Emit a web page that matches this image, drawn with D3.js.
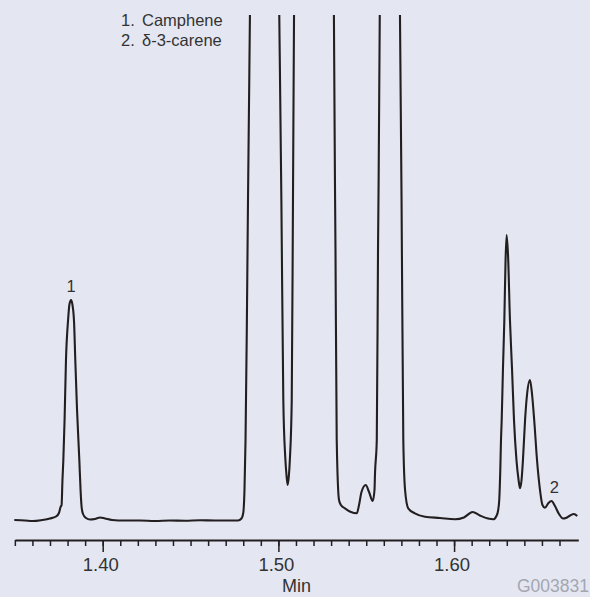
<!DOCTYPE html>
<html>
<head>
<meta charset="utf-8">
<script src="https://cdn.jsdelivr.net/npm/d3@7"></script>
<style>
  html, body { margin: 0; padding: 0; background: #e4e7f2; }
  svg { display: block; }
  text { font-family: "Liberation Sans", Arial, Helvetica, sans-serif; }
</style>
</head>
<body>
<script>
// ---- data ----
const retentionTime = [
  1.3497, 1.3558, 1.3603, 1.3655, 1.3700, 1.3734, 1.3751, 1.3760, 1.3766, 1.3771,
  1.3776, 1.3783, 1.3791, 1.3803, 1.3811, 1.3820, 1.3828, 1.3837, 1.3844, 1.3854,
  1.3867, 1.3874, 1.3880, 1.3888, 1.3905, 1.3928, 1.3956, 1.3985, 1.4013, 1.4053,
  1.4127, 1.4212, 1.4298, 1.4383, 1.4468, 1.4554, 1.4639, 1.4725, 1.4770, 1.4790,
  1.4800, 1.4807, 1.4813, 1.4820, 1.4827, 1.4833, 1.4838, 1.4840, 1.4918, 1.5002,
  1.5005, 1.5017, 1.5028, 1.5039, 1.5046, 1.5053, 1.5060, 1.5066, 1.5076, 1.5083,
  1.5089, 1.5091, 1.5203, 1.5315, 1.5316, 1.5325, 1.5332, 1.5345, 1.5356, 1.5379,
  1.5413, 1.5446, 1.5459, 1.5473, 1.5497, 1.5516, 1.5537, 1.5547, 1.5550, 1.5560,
  1.5567, 1.5577, 1.5578, 1.5635, 1.5690, 1.5692, 1.5701, 1.5711, 1.5721, 1.5739,
  1.5777, 1.5834, 1.5920, 1.6005, 1.6056, 1.6105, 1.6147, 1.6193, 1.6223, 1.6241,
  1.6250, 1.6257, 1.6263, 1.6267, 1.6271, 1.6278, 1.6286, 1.6293, 1.6299, 1.6307,
  1.6318, 1.6330, 1.6341, 1.6355, 1.6367, 1.6375, 1.6384, 1.6392, 1.6404, 1.6415,
  1.6432, 1.6443, 1.6456, 1.6472, 1.6489, 1.6503, 1.6517, 1.6537, 1.6555, 1.6574,
  1.6597, 1.6620, 1.6637, 1.6660, 1.6682, 1.6701
];
const detectorSignal = [
  10, 9.5, 9, 10, 11.5, 13.5, 17, 23, 25, 50,
  70, 110, 170, 210, 226, 230, 225, 208, 170, 120,
  70, 40, 23, 16, 12, 10.5, 11, 12.5, 11.5, 10,
  9.5, 9.5, 9, 9.5, 9.3, 9.7, 9.5, 9.5, 9.5, 11.5,
  17, 40, 90, 197, 330, 430, 515, 560, 1500, 560,
  515, 330, 130, 73, 55, 45, 55, 73, 130, 330,
  515, 560, 1500, 560, 515, 280, 90, 30, 25, 21.7,
  18, 16.7, 25, 38, 45, 38, 29, 40, 57, 90,
  280, 515, 560, 1500, 560, 515, 330, 90, 40, 21.7,
  16.7, 13.3, 12, 10.7, 12.5, 18, 14.5, 11.5, 10.7, 14,
  19, 30, 60, 90, 110, 160, 210, 270, 295, 275,
  210, 160, 110, 70, 50, 41.7, 50, 70, 110, 135,
  150, 137, 110, 70, 40, 25, 22.3, 27, 29, 24,
  16, 11.5, 12, 14.5, 16, 14
];
const minorTicks = [1.35, 1.36, 1.37, 1.38, 1.39, 1.40, 1.41, 1.42, 1.43, 1.44, 1.45,
  1.46, 1.47, 1.48, 1.49, 1.50, 1.51, 1.52, 1.53, 1.54, 1.55, 1.56, 1.57, 1.58, 1.59,
  1.60, 1.61, 1.62, 1.63, 1.64, 1.65, 1.66];
const majorTicks = [1.40, 1.50, 1.60];
const peakLabels = ["1", "2"];
const peakTimes = [1.3820, 1.6570];
const peakSignals = [230, 29];
const legendNumbers = ["1.", "2."];
const legendNames = ["Camphene", "\u03B4-3-carene"];
const xAxisTitle = "Min";
const figureCode = "G003831";

// ---- drawing ----
const W = 590, H = 597;
const ink = "#231f20";
const svg = d3.select("body").append("svg").attr("width", W).attr("height", H);
svg.append("rect").attr("width", W).attr("height", H).attr("fill", "#e4e7f2");

const x = d3.scaleLinear().domain([1.35, 1.6707]).range([14.85, 578.3]);
const y = d3.scaleLinear().domain([0, 515]).range([530, 15]);

svg.append("clipPath").attr("id", "plotclip")
  .append("rect").attr("x", 0).attr("y", 15).attr("width", W).attr("height", 525);

const pts = retentionTime.map((t, i) => [t, detectorSignal[i]]);
const line = d3.line().x(d => x(d[0])).y(d => y(d[1])).curve(d3.curveMonotoneX);
svg.append("path").datum(pts)
  .attr("clip-path", "url(#plotclip)")
  .attr("d", line)
  .attr("fill", "none")
  .attr("stroke", ink)
  .attr("stroke-width", 2.1)
  .attr("stroke-linejoin", "round");

// axis
const axisY = 540;
const gMinor = svg.append("g").attr("transform", `translate(0,${axisY})`)
  .call(d3.axisBottom(x).tickValues(minorTicks).tickSize(6).tickSizeOuter(0).tickFormat(""));
gMinor.select(".domain").attr("stroke", ink).attr("stroke-width", 2);
gMinor.selectAll(".tick line").attr("stroke", ink).attr("stroke-width", 1.5);

const gMajor = svg.append("g").attr("transform", `translate(0,${axisY})`)
  .call(d3.axisBottom(x).tickValues(majorTicks).tickSize(12).tickPadding(6).tickFormat(d3.format(".2f")));
gMajor.select(".domain").remove();
gMajor.selectAll(".tick line").attr("stroke", ink).attr("stroke-width", 1.5);
gMajor.selectAll(".tick text")
  .attr("font-family", '"Liberation Sans", Arial, sans-serif')
  .attr("font-size", 18.5)
  .attr("fill", "#333")
  .attr("dx", -2.5)
  .attr("y", 31).attr("dy", 0);

svg.append("text")
  .attr("x", (x.range()[0] + x.range()[1]) / 2).attr("y", 592)
  .attr("text-anchor", "middle").attr("font-size", 18).attr("fill", "#333")
  .text(xAxisTitle);

svg.append("text")
  .attr("x", 589).attr("y", 592)
  .attr("text-anchor", "end")
  .attr("font-size", 17.5).attr("fill", "#a4a6b0")
  .text(figureCode);

// peak labels
svg.selectAll("text.peak").data(peakLabels).enter().append("text")
  .attr("class", "peak")
  .attr("x", (d, i) => x(peakTimes[i]))
  .attr("y", (d, i) => y(peakSignals[i]) - 8)
  .attr("text-anchor", "middle")
  .attr("font-size", 16.5).attr("fill", "#333")
  .text(d => d);

// legend
const lg = svg.append("g");
legendNumbers.forEach((n, i) => {
  lg.append("text").attr("x", 121).attr("y", 26 + i * 19.5)
    .attr("font-size", 16.5).attr("fill", "#333").text(n);
  lg.append("text").attr("x", 142).attr("y", 26 + i * 19.5)
    .attr("font-size", 16.5).attr("fill", "#333").text(legendNames[i]);
});
</script>
</body>
</html>
